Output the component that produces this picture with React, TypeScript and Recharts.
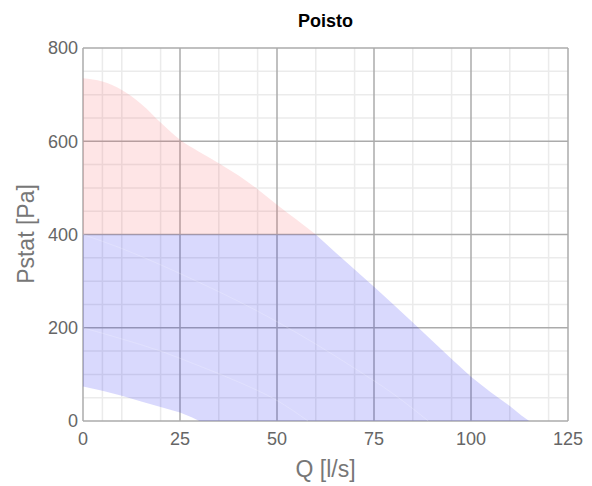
import { ComposedChart, Area, Line, XAxis, YAxis, CartesianGrid } from 'recharts'

// fan curve, upper edge (Q l/s -> Pstat Pa)
const qUpper = [0, 5, 10, 15, 20, 25, 30, 35, 40, 45, 50, 55, 60, 65, 70, 75, 80, 85, 90, 95, 100, 105, 110, 113, 115]
const pUpper = [735, 728, 710, 680, 640, 603, 577, 553, 527, 497, 464, 432, 400, 362, 325, 288, 250, 211, 172, 133, 95, 62, 32, 12, 0]

// lower edge of the working range
const qLower = [0, 5, 10, 15, 20, 25, 28, 30]
const pLower = [74, 65, 54, 42, 30, 18, 8, 0]

// pressure limit
const pLimit = 400

// faint curves inside the area
const qLineA = [0, 10, 20, 30, 40, 50, 60, 70, 80, 89]
const pLineA = [400, 370, 335, 297, 257, 213, 165, 113, 58, 0]
const qLineB = [0, 10, 20, 30, 40, 50, 58]
const pLineB = [200, 176, 150, 118, 84, 44, 0]

const xTicks = [0, 25, 50, 75, 100, 125]
const yTicks = [0, 200, 400, 600, 800]
const xMinor = [5, 10, 15, 20, 30, 35, 40, 45, 55, 60, 65, 70, 80, 85, 90, 95, 105, 110, 115, 120]
const yMinor = [50, 100, 150, 250, 300, 350, 450, 500, 550, 650, 700, 750]

const interp = (qs: number[], ps: number[], q: number) => {
  if (q <= qs[0]) return ps[0]
  for (let i = 1; i < qs.length; i++) {
    if (q <= qs[i]) {
      const t = (q - qs[i - 1]) / (qs[i] - qs[i - 1])
      return ps[i - 1] + t * (ps[i] - ps[i - 1])
    }
  }
  return 0
}

const qBlue = Array.from(new Set([...qUpper, ...qLower])).sort((a, b) => a - b)

const pinkData = qUpper
  .map((q, i) => ({ q, range: [pLimit, pUpper[i]] }))
  .filter((d) => d.range[1] >= pLimit)
const blueData = qBlue.map((q) => ({
  q,
  range: [interp(qLower, pLower, q), Math.min(interp(qUpper, pUpper, q), pLimit)],
}))
const lineAData = qLineA.map((q, i) => ({ q, p: pLineA[i] }))
const lineBData = qLineB.map((q, i) => ({ q, p: pLineB[i] }))

const tick = { fill: '#666', fontSize: 18 }

export default function App() {
  return (
    <div style={{ position: 'absolute', left: 0, top: 0, width: 592, height: 486, fontFamily: 'Arial, "Liberation Sans", sans-serif', background: '#fff' }}>
      <ComposedChart width={592} height={486} margin={{ top: 48, right: 24, bottom: 35, left: 23 }}>
        <CartesianGrid stroke="#ebebeb" strokeWidth={1.5} horizontalValues={yMinor} verticalValues={xMinor} />
        <CartesianGrid stroke="#ababab" strokeWidth={1.5} horizontalValues={yTicks} verticalValues={xTicks} />
        <XAxis
          type="number"
          dataKey="q"
          domain={[0, 125]}
          ticks={xTicks}
          axisLine={false}
          tickLine={false}
          tickSize={0}
          tickMargin={11}
          height={30}
          tick={tick}
          allowDuplicatedCategory={false}
        />
        <YAxis
          type="number"
          domain={[0, 800]}
          ticks={yTicks}
          axisLine={false}
          tickLine={false}
          tickSize={0}
          tickMargin={5}
          width={60}
          tick={tick}
        />
        <Area data={pinkData} dataKey="range" type="monotone" stroke="none" fill="#f5505a" fillOpacity={0.15} isAnimationActive={false} />
        <Area data={blueData} dataKey="range" type="linear" stroke="none" fill="#1e1ef5" fillOpacity={0.17} isAnimationActive={false} />
        <Line data={lineAData} dataKey="p" type="monotone" stroke="#ffffff" strokeOpacity={0.2} strokeWidth={1} dot={false} isAnimationActive={false} />
        <Line data={lineBData} dataKey="p" type="monotone" stroke="#ffffff" strokeOpacity={0.2} strokeWidth={1} dot={false} isAnimationActive={false} />
      </ComposedChart>
      <svg width={592} height={486} style={{ position: 'absolute', left: 0, top: 0, pointerEvents: 'none' }}>
        <text x={325.5} y={27} textAnchor="middle" fontSize={18} fontWeight="bold" fill="#000">Poisto</text>
        <text x={325.5} y={469} textAnchor="middle" dominantBaseline="central" fontSize={23} fill="#777">Q [l/s]</text>
        <text x={26} y={234} textAnchor="middle" dominantBaseline="central" fontSize={23} fill="#777" transform="rotate(-90 26 234)">Pstat [Pa]</text>
      </svg>
    </div>
  )
}
